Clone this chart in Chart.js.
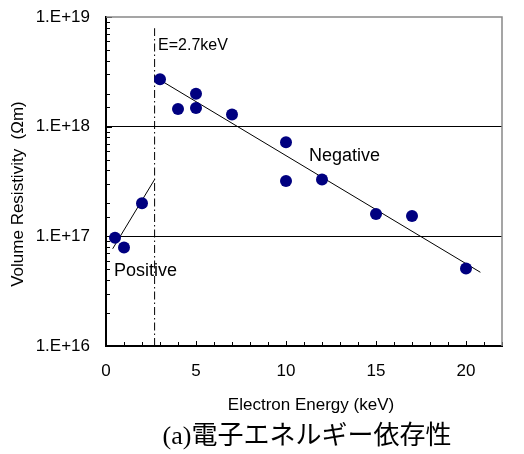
<!DOCTYPE html>
<html>
<head>
<meta charset="utf-8">
<script src="https://cdn.jsdelivr.net/npm/chart.js@4/dist/chart.umd.min.js"></script>
<style>
  body { margin: 0; background: #fff; }
  canvas { display: block; }
</style>
</head>
<body>
<canvas id="myChart" width="524" height="454"></canvas>
<script>
// measured volume resistivity vs. electron energy
var energy = [0.5, 1, 2, 3, 4, 5, 5, 7, 10, 10, 12, 15, 17, 20];
var resistivity = [9.7e16, 7.9e16, 2.0e17, 2.7e18, 1.45e18, 2.0e18, 1.48e18, 1.29e18, 7.2e17, 3.2e17, 3.3e17, 1.6e17, 1.53e17, 5.1e16];

// fitted lines on each side of the boundary energy
var posFitX = [0.37, 2.7];
var posFitY = [7.7e16, 3.3e17];
var negFitX = [2.78, 20.8];
var negFitY = [2.8e18, 4.7e16];

var boundaryE = 2.7;
var boundaryY = [1e16, 7.9e18];

var xTickLabels = [0, 5, 10, 15, 20];
var yTickLabels = ["1.E+16", "1.E+17", "1.E+18", "1.E+19"];

var FONT = "'Liberation Sans', Arial, sans-serif";

function pts(xs, ys) {
  return xs.map(function (x, i) { return { x: x, y: ys[i] }; });
}

function isDecade(v) {
  var l = Math.log10(v);
  return Math.abs(l - Math.round(l)) < 1e-9;
}

// inward tick marks, frame and text labels
var decorations = {
  id: "decorations",
  beforeDatasetsDraw: function (chart) {
    var ctx = chart.ctx;
    var a = chart.chartArea;
    var xs = chart.scales.x, ys = chart.scales.y;
    ctx.save();
    ctx.strokeStyle = "#000";
    ctx.lineWidth = 1;
    ys.ticks.forEach(function (t) {
      var py = Math.round(ys.getPixelForValue(t.value)) + 0.5;
      var len = isDecade(t.value) ? 6 : 4;
      ctx.beginPath();
      ctx.moveTo(a.left, py);
      ctx.lineTo(a.left + len, py);
      ctx.stroke();
    });
    xs.ticks.forEach(function (t) {
      var px = Math.round(xs.getPixelForValue(t.value)) + 0.5;
      var len = t.value % 5 === 0 ? 5 : 4;
      ctx.beginPath();
      ctx.moveTo(px, a.bottom);
      ctx.lineTo(px, a.bottom - len);
      ctx.stroke();
    });
    // top and right frame
    ctx.strokeStyle = "#888";
    ctx.lineWidth = 1.5;
    ctx.beginPath();
    ctx.moveTo(a.left, a.top);
    ctx.lineTo(a.right, a.top);
    ctx.lineTo(a.right, a.bottom);
    ctx.stroke();
    ctx.restore();
  },
  afterDraw: function (chart) {
    var ctx = chart.ctx;
    var xs = chart.scales.x;
    ctx.save();
    ctx.fillStyle = "#000";
    ctx.textBaseline = "alphabetic";
    ctx.textAlign = "left";

    ctx.font = "16px " + FONT;
    ctx.fillText("E=2.7keV", xs.getPixelForValue(boundaryE) + 3.5, 50);

    ctx.font = "18px " + FONT;
    ctx.fillText("Negative", 309, 161);
    ctx.fillText("Positive", 114, 276);

    ctx.textAlign = "center";
    ctx.font = "17px " + FONT;
    ctx.fillText("Electron Energy (keV)", 311, 410);

    ctx.font = "26px 'Liberation Serif', 'Noto Sans CJK JP', serif";
    ctx.fillText("(a)電子エネルギー依存性", 307, 444);

    ctx.translate(23, 194);
    ctx.rotate(-Math.PI / 2);
    ctx.font = "17px " + FONT;
    ctx.fillText("Volume Resistivity  (Ωm)", 0, 0);
    ctx.restore();
  }
};

const ctx = document.getElementById("myChart").getContext("2d");
new Chart(ctx, {
  type: "scatter",
  data: {
    datasets: [
      {
        label: "Measured",
        data: pts(energy, resistivity),
        backgroundColor: "#000080",
        borderColor: "#000080",
        pointRadius: 6,
        pointHoverRadius: 6,
        borderWidth: 0,
        order: 0
      },
      {
        label: "Negative fit",
        data: pts(negFitX, negFitY),
        showLine: true,
        pointRadius: 0,
        borderColor: "#000",
        borderWidth: 1,
        order: 1
      },
      {
        label: "Positive fit",
        data: pts(posFitX, posFitY),
        showLine: true,
        pointRadius: 0,
        borderColor: "#000",
        borderWidth: 1,
        order: 1
      },
      {
        label: "E=2.7keV",
        data: pts([boundaryE, boundaryE], boundaryY),
        showLine: true,
        pointRadius: 0,
        borderColor: "#000",
        borderWidth: 1,
        borderDash: [8, 3, 1.5, 3],
        order: 1
      }
    ]
  },
  options: {
    responsive: false,
    animation: false,
    devicePixelRatio: 1,
    layout: { padding: { top: 17, right: 22, left: 0, bottom: 0 } },
    plugins: {
      legend: { display: false },
      tooltip: { enabled: false }
    },
    scales: {
      x: {
        type: "linear",
        min: 0,
        max: 22,
        afterFit: function (scale) {
          scale.height = 108;
          scale.paddingLeft = 0;
          scale.paddingRight = 0;
        },
        border: { color: "#000", width: 2 },
        grid: { display: false, drawTicks: false },
        ticks: {
          stepSize: 1,
          autoSkip: false,
          maxRotation: 0,
          padding: 15,
          color: "#000",
          font: { family: FONT, size: 17 },
          callback: function (v) {
            return xTickLabels.indexOf(v) >= 0 ? String(v) : "";
          }
        }
      },
      y: {
        type: "logarithmic",
        min: 1e16,
        max: 1e19,
        afterFit: function (scale) {
          scale.width = 106;
          scale.paddingTop = 0;
          scale.paddingBottom = 0;
        },
        border: { color: "#000", width: 2 },
        grid: {
          drawTicks: false,
          lineWidth: 1,
          color: function (c) {
            var v = c.tick && c.tick.value;
            return (v === 1e17 || v === 1e18) ? "#000" : "rgba(0,0,0,0)";
          }
        },
        ticks: {
          autoSkip: false,
          padding: 16,
          color: "#000",
          font: { family: FONT, size: 17 },
          callback: function (v) {
            if (!isDecade(v)) return "";
            return yTickLabels[Math.round(Math.log10(v)) - 16];
          }
        }
      }
    }
  },
  plugins: [decorations]
});
</script>
</body>
</html>
